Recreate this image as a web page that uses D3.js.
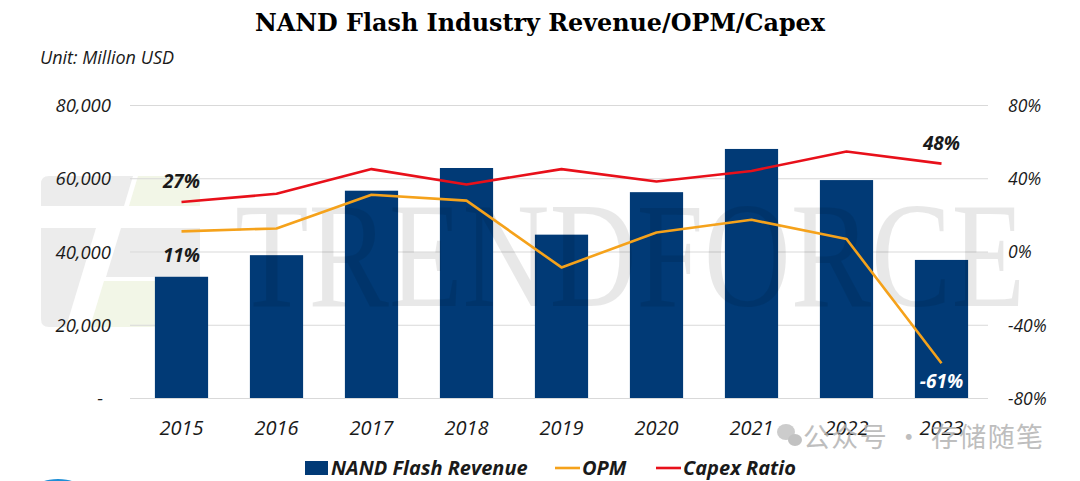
<!DOCTYPE html>
<html>
<head>
<meta charset="utf-8">
<script src="https://cdn.jsdelivr.net/npm/d3@7"></script>
<style>
  html, body { margin: 0; padding: 0; background: #fff; }
  svg { display: block; }
</style>
</head>
<body>
<svg id="chart" width="1080" height="481"></svg>
<script>
// ---- data ----
const years = ["2015","2016","2017","2018","2019","2020","2021","2022","2023"];
const revenue = [33100, 39000, 56600, 62800, 44600, 56200, 68000, 59500, 37700];
const opm = [0.11, 0.126, 0.31, 0.278, -0.087, 0.104, 0.173, 0.068, -0.61];
const capex = [0.27, 0.315, 0.45, 0.366, 0.45, 0.382, 0.44, 0.546, 0.48];
const leftTicks = [0, 20000, 40000, 60000, 80000];
const rightTicks = [-0.8, -0.4, 0, 0.4, 0.8];
const dataLabels = [
  {series: "capex", idx: 0, text: "27%"},
  {series: "opm", idx: 0, text: "11%"},
  {series: "capex", idx: 8, text: "48%"},
  {series: "opm", idx: 8, text: "-61%"}
];

const svg = d3.select("#chart");
const font = "'Open Sans', 'Noto Sans', sans-serif";
const navy = "#013A76", orange = "#F5A21B", red = "#E8101A";

const x = d3.scaleBand().domain(years).range([134, 989]).paddingInner(0.44).paddingOuter(0.22);
const yL = d3.scaleLinear().domain([0, 80000]).range([398, 105]);
const yR = d3.scaleLinear().domain([-0.8, 0.8]).range([398, 105]);

// ---- watermark logo (faint) ----
const logo = svg.append("g").attr("opacity", 0.75);
const gray = "#e6e6e6", green = "#eef3df";
logo.append("path").attr("d", "M49,176 L133,176 L124,206 L41,206 L41,184 Q41,176 49,176 Z").attr("fill", gray);
logo.append("path").attr("d", "M138,176 L200,176 L200,206 L129,206 Z").attr("fill", green);
logo.append("path").attr("d", "M41,228 L96,228 L66,327 L49,327 Q41,327 41,319 Z").attr("fill", gray);
logo.append("path").attr("d", "M121,228 L200,228 L200,277 L106,277 Z").attr("fill", gray);
logo.append("path").attr("d", "M104,281 L200,281 L200,319 Q200,327 192,327 L90,327 Z").attr("fill", green);

// ---- gridlines ----
svg.append("g").selectAll("line").data(leftTicks).join("line")
  .attr("x1", 130).attr("x2", 988)
  .attr("y1", d => yL(d) + 0.5).attr("y2", d => yL(d) + 0.5)
  .attr("stroke", "#d9d9d9").attr("stroke-width", 1);

// ---- bars ----
svg.append("g").selectAll("rect").data(years).join("rect")
  .attr("x", d => x(d))
  .attr("width", x.bandwidth())
  .attr("y", (d, i) => yL(revenue[i]))
  .attr("height", (d, i) => yL(0) - yL(revenue[i]))
  .attr("fill", navy);

// ---- TRENDFORCE watermark ----
svg.append("text")
  .attr("x", 235).attr("y", 306)
  .attr("textLength", 790).attr("lengthAdjust", "spacingAndGlyphs")
  .attr("font-family", "'Liberation Serif', 'DejaVu Serif', serif")
  .attr("font-size", 150)
  .attr("fill", "#000").attr("fill-opacity", 0.09)
  .text("TRENDFORCE");

// ---- lines ----
const lineGen = d3.line().x((d, i) => x(years[i]) + x.bandwidth() / 2).y(d => yR(d));
svg.append("path").datum(opm).attr("d", lineGen)
  .attr("fill", "none").attr("stroke", orange).attr("stroke-width", 2.6).attr("stroke-linejoin", "round");
svg.append("path").datum(capex).attr("d", lineGen)
  .attr("fill", "none").attr("stroke", red).attr("stroke-width", 2.6).attr("stroke-linejoin", "round");

// ---- axes ----
const axL = svg.append("g").attr("transform", "translate(111,0)")
  .call(d3.axisLeft(yL).tickValues(leftTicks).tickSize(0).tickPadding(0)
    .tickFormat(d => d === 0 ? "-" : d3.format(",")(d)));
axL.select(".domain").remove();
axL.selectAll("text")
  .attr("font-family", font).attr("font-style", "italic").attr("font-size", 18.5)
  .attr("fill", "#1a1a1a").attr("dy", "0.36em")
  .attr("dx", d => d === 0 ? -8 : 0);

const axR = svg.append("g").attr("transform", "translate(1008,0)")
  .call(d3.axisRight(yR).tickValues(rightTicks).tickSize(0).tickPadding(0)
    .tickFormat(d3.format(".0%")));
axR.select(".domain").remove();
axR.selectAll("text")
  .attr("font-family", font).attr("font-style", "italic").attr("font-size", 17.5)
  .attr("fill", "#1a1a1a").attr("dy", "0.36em")
  .text(d => d3.format(".0%")(d).replace("−", "-"));

const axB = svg.append("g").attr("transform", "translate(0,398)")
  .call(d3.axisBottom(x).tickSize(0).tickPadding(0));
axB.select(".domain").remove();
axB.selectAll("text")
  .attr("font-family", font).attr("font-style", "italic").attr("font-size", 20)
  .attr("fill", "#1a1a1a").attr("y", 37).attr("dy", 0);

// ---- data labels ----
const labelOffsets = {"27%": -14, "11%": 31, "48%": -14, "-61%": 25};
svg.append("g").selectAll("text").data(dataLabels).join("text")
  .attr("x", d => x(years[d.idx]) + x.bandwidth() / 2)
  .attr("y", d => yR((d.series === "capex" ? capex : opm)[d.idx]) + labelOffsets[d.text])
  .attr("text-anchor", "middle")
  .attr("font-family", font).attr("font-style", "italic").attr("font-weight", "bold")
  .attr("font-size", 19)
  .attr("fill", d => d.text === "-61%" ? "#fff" : "#1a1a1a")
  .text(d => d.text);

// ---- title & unit ----
svg.append("text")
  .attr("x", 255).attr("y", 31)
  .attr("textLength", 570).attr("lengthAdjust", "spacingAndGlyphs")
  .attr("font-family", "'DejaVu Serif', 'Liberation Serif', serif")
  .attr("font-weight", "bold").attr("font-size", 25).attr("fill", "#000")
  .text("NAND Flash Industry Revenue/OPM/Capex");

svg.append("text")
  .attr("x", 40).attr("y", 64)
  .attr("font-family", font).attr("font-style", "italic").attr("font-size", 18)
  .attr("fill", "#1a1a1a")
  .text("Unit: Million USD");

// ---- WeChat watermark ----
const wm = svg.append("g").attr("opacity", 0.85);
wm.append("ellipse").attr("cx", 786).attr("cy", 432).attr("rx", 9).attr("ry", 8).attr("fill", "#c4c4c4");
wm.append("ellipse").attr("cx", 795).attr("cy", 440).attr("rx", 7).attr("ry", 6).attr("fill", "#b8b8b8");
wm.append("text")
  .attr("x", 803).attr("y", 447)
  .attr("textLength", 240).attr("lengthAdjust", "spacing")
  .attr("font-family", "'Noto Sans CJK SC', sans-serif").attr("font-size", 27)
  .attr("fill", "#b3b3b3")
  .text("公众号 · 存储随笔");

// ---- legend ----
const legend = svg.append("g");
const legendItems = [
  {label: "NAND Flash Revenue", type: "rect", color: navy, x: 305},
  {label: "OPM", type: "line", color: orange, x: 555},
  {label: "Capex Ratio", type: "line", color: red, x: 656}
];
legendItems.forEach(it => {
  if (it.type === "rect") {
    legend.append("rect").attr("x", it.x).attr("y", 461).attr("width", 23).attr("height", 14).attr("fill", it.color);
  } else {
    legend.append("line").attr("x1", it.x).attr("x2", it.x + 25).attr("y1", 468).attr("y2", 468)
      .attr("stroke", it.color).attr("stroke-width", 2.6);
  }
  legend.append("text")
    .attr("x", it.x + (it.type === "rect" ? 26 : 27)).attr("y", 475)
    .attr("font-family", font).attr("font-style", "italic").attr("font-weight", "bold")
    .attr("font-size", 20).attr("fill", "#1a1a1a")
    .text(it.label);
});

// bottom-left partial blue shape
svg.append("ellipse").attr("cx", 58).attr("cy", 488).attr("rx", 22).attr("ry", 9).attr("fill", "#1f8fd6");
</script>
</body>
</html>
